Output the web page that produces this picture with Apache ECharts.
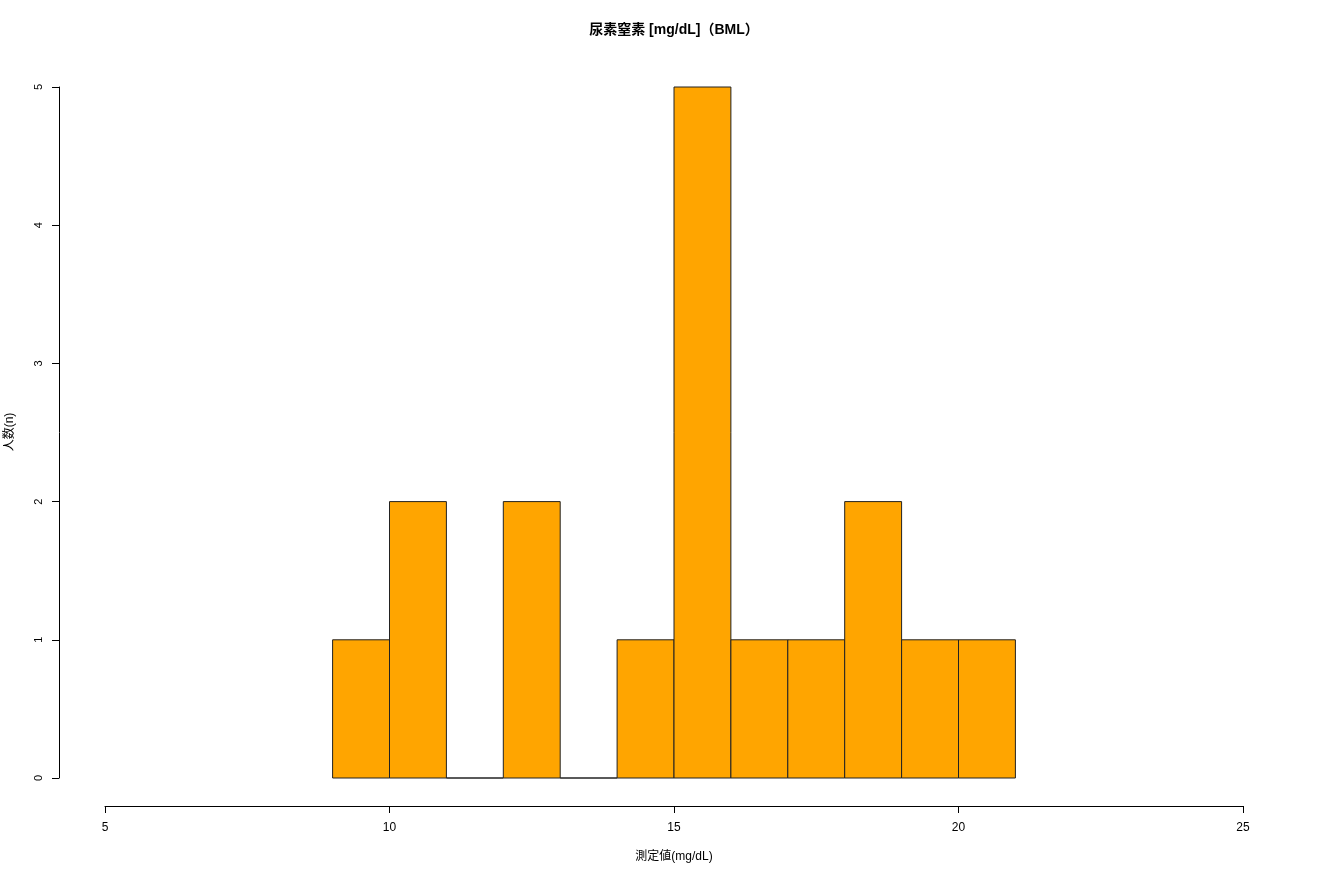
<!DOCTYPE html>
<html>
<head>
<meta charset="utf-8">
<script src="https://cdn.jsdelivr.net/npm/echarts@6/dist/echarts.min.js"></script>
<style>html,body{margin:0;padding:0;background:#fff;}#c{width:1320px;height:880px;}</style>
</head>
<body>
<div id="c"></div>
<script>
const titleText = '尿素窒素 [mg/dL]（BML）';
const xLabel = '測定値(mg/dL)';
const yLabel = '人数(n)';
const binStarts = [9, 10, 11, 12, 13, 14, 15, 16, 17, 18, 19, 20];
const binEnds   = [10, 11, 12, 13, 14, 15, 16, 17, 18, 19, 20, 21];
const counts    = [1, 2, 0, 2, 0, 1, 5, 1, 1, 2, 1, 1];
const xTicks = [5, 10, 15, 20, 25];
const yTicks = [0, 1, 2, 3, 4, 5];

const data = binStarts.map((s, i) => [s, binEnds[i], counts[i]]);
const font = 'Liberation Sans, Arial, Helvetica, sans-serif';
const cjk = 'Liberation Sans, "Noto Sans CJK JP", sans-serif';

const chart = echarts.init(document.getElementById('c'), null, {renderer: 'canvas'});
chart.setOption({
  animation: false,
  backgroundColor: '#ffffff',
  grid: {left: 105, right: 77, top: 87, bottom: 102},
  xAxis: {
    type: 'value', min: xTicks[0], max: xTicks[xTicks.length - 1], interval: 5,
    offset: 28,
    axisLine: {show: true, onZero: false, lineStyle: {color: '#000', width: 1}},
    axisTick: {show: true, length: 7, lineStyle: {color: '#000'}},
    axisLabel: {color: '#000', fontSize: 12, fontFamily: font, margin: 16},
    splitLine: {show: false}
  },
  yAxis: {
    type: 'value', min: yTicks[0], max: yTicks[yTicks.length - 1], interval: 1,
    offset: 46,
    axisLine: {show: true, onZero: false, lineStyle: {color: '#000', width: 1}},
    axisTick: {show: true, length: 7, lineStyle: {color: '#000'}},
    axisLabel: {color: '#000', fontSize: 11, fontFamily: font, rotate: 90, margin: 15, align: 'center', verticalAlign: 'bottom'},
    splitLine: {show: false}
  },
  graphic: [
    {type: 'text', x: 674, y: 30, style: {text: titleText, fontSize: 14, fontWeight: 'bold', fontFamily: cjk, fill: '#000', align: 'center', verticalAlign: 'middle'}},
    {type: 'text', x: 674, y: 857, style: {text: xLabel, fontSize: 12, fontFamily: cjk, fill: '#000', align: 'center', verticalAlign: 'middle'}},
    {type: 'text', x: 10, y: 432, rotation: Math.PI / 2, style: {text: yLabel, fontSize: 12, fontFamily: cjk, fill: '#000', align: 'center', verticalAlign: 'middle'}}
  ],
  series: [{
    type: 'custom',
    data: data,
    encode: {x: [0, 1], y: 2},
    renderItem: function (params, api) {
      const p0 = api.coord([api.value(0), 0]);
      const p1 = api.coord([api.value(1), api.value(2)]);
      return {
        type: 'rect',
        shape: {x: p0[0], y: p1[1], width: p1[0] - p0[0], height: p0[1] - p1[1]},
        style: {fill: '#FFA500', stroke: '#222', lineWidth: 1}
      };
    }
  }]
});
</script>
</body>
</html>
